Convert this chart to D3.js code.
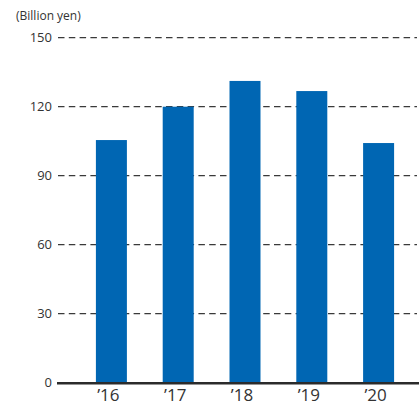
<!DOCTYPE html>
<html>
<head>
<meta charset="utf-8">
<script src="https://cdn.jsdelivr.net/npm/d3@7"></script>
<style>
  body { margin: 0; background: #fff; }
  svg { display: block; }
  text { font-family: "Open Sans", "Noto Sans", sans-serif; fill: #333; }
</style>
</head>
<body>
<div id="chart"></div>
<script>
// chart data
var years = ["\u201916", "\u201917", "\u201918", "\u201919", "\u201920"];
var values = [105.5, 120, 131.2, 126.8, 104.2];
var yTicks = [0, 30, 60, 90, 120, 150];
var unitLabel = "(Billion yen)";

var fullWidth = 419,
    fullHeight = 407;

var svg = d3.select("#chart")
    .append("svg")
    .attr("width", fullWidth)
    .attr("height", fullHeight);

var xScale = d3.scaleBand()
    .domain(years)
    .range([78, 412])
    .paddingInner(0.536)
    .paddingOuter(0.268);

var yScale = d3.scaleLinear()
    .domain([0, 150])
    .range([382.7, 37.7]);

// dashed gridlines
svg.append("g")
    .selectAll("line")
    .data(yTicks.filter(function (d) { return d > 0; }))
    .enter()
    .append("line")
    .attr("x1", 58)
    .attr("x2", 417)
    .attr("y1", function (d) { return yScale(d); })
    .attr("y2", function (d) { return yScale(d); })
    .attr("stroke", "#3a3a3a")
    .attr("stroke-width", 1.3)
    .attr("stroke-dasharray", "6.5,4.3");

// bars
svg.append("g")
    .selectAll("rect")
    .data(values)
    .enter()
    .append("rect")
    .attr("x", function (d, i) { return xScale(years[i]); })
    .attr("width", xScale.bandwidth())
    .attr("y", function (d) { return yScale(d); })
    .attr("height", function (d) { return yScale(0) - yScale(d); })
    .attr("fill", "#0066b3");

// baseline
svg.append("line")
    .attr("x1", 57)
    .attr("x2", 419)
    .attr("y1", yScale(0) + 0.6)
    .attr("y2", yScale(0) + 0.6)
    .attr("stroke", "#2b2b2b")
    .attr("stroke-width", 2.6);

// y tick labels
svg.append("g")
    .selectAll("text")
    .data(yTicks)
    .enter()
    .append("text")
    .attr("x", 52)
    .attr("y", function (d) { return yScale(d); })
    .attr("dy", "0.35em")
    .attr("text-anchor", "end")
    .style("font-size", "13px")
    .text(function (d) { return d; });

// x labels
svg.append("g")
    .selectAll("text")
    .data(years)
    .enter()
    .append("text")
    .attr("x", function (d) { return xScale(d) + xScale.bandwidth() / 2 - 3; })
    .attr("y", 401)
    .attr("text-anchor", "middle")
    .style("font-size", "17px")
    .text(function (d) { return d; });

svg.append("text")
    .attr("x", 16)
    .attr("y", 20)
    .style("font-size", "12px")
    .text(unitLabel);
</script>
</body>
</html>
